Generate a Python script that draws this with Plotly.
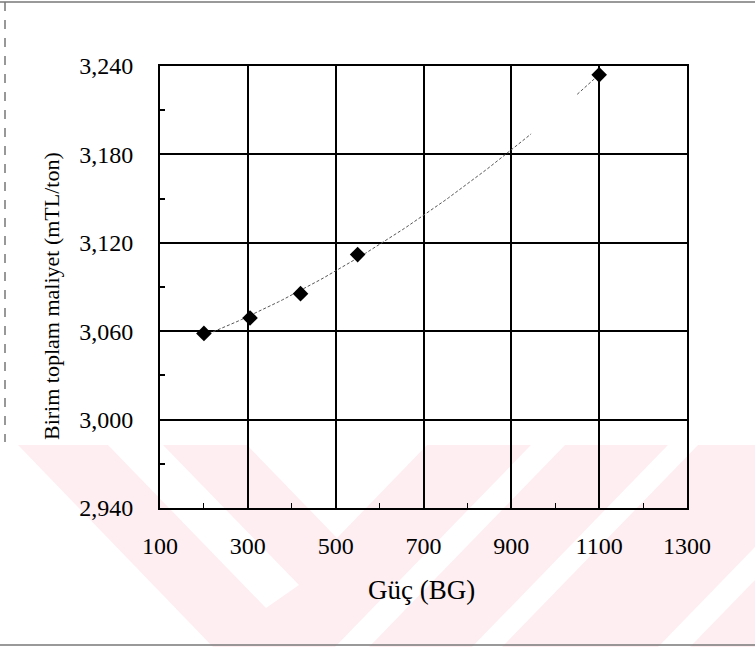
import numpy as np
import plotly.graph_objects as go

# Power (BG) vs unit total cost (mTL/ton)
guc_bg = [200, 305, 420, 550, 1100]
maliyet = [3058.5, 3069, 3085.5, 3112, 3234]

x_ticks = [100, 300, 500, 700, 900, 1100, 1300]
y_ticks = [2940, 3000, 3060, 3120, 3180, 3240]

# second-order trend fitted to the points
coef = np.polyfit(guc_bg, maliyet, 2)
trend_a = np.linspace(200, 945, 80)
trend_b = np.linspace(1050, 1100, 12)
trend_x = list(trend_a) + [None] + list(trend_b)
trend_y = list(np.polyval(coef, trend_a)) + [None] + list(np.polyval(coef, trend_b))

FONT = "Liberation Serif"
W, H = 755, 647
L, R, T, B = 160, 687, 66, 508


def to_paper(xp, yp):
    return (xp - L) / (R - L), (B - yp) / (B - T)


def path(points):
    pts = [to_paper(a, b) for a, b in points]
    return "M " + " L ".join(f"{a:.5f},{b:.5f}" for a, b in pts) + " Z"


PINK = "#feeef1"
WHITE = "#ffffff"
mark_shapes = [
    (PINK, [(18, 445), (755, 445), (755, 647), (213, 647)]),
    (WHITE, [(108, 445), (163, 445), (299, 585), (266, 608)]),
    (WHITE, [(247, 445), (427, 445), (337, 538)]),
    (WHITE, [(531, 445), (565, 445), (369, 647), (335, 647)]),
    (WHITE, [(668, 445), (698, 445), (502, 647), (472, 647)]),
    (WHITE, [(658, 647), (755, 547), (755, 580), (690, 647)]),
]

shapes = []
for color, pts in mark_shapes:
    shapes.append(dict(type="path", xref="paper", yref="paper", path=path(pts),
                       fillcolor=color, line=dict(width=0), layer="below"))

# page border lines
for (x0, y0, x1, y1, dash) in [(0, 2, 755, 2, "solid"), (0, 645, 755, 645, "solid"),
                               (5, 2, 5, 442, "dash")]:
    a0, b0 = to_paper(x0, y0)
    a1, b1 = to_paper(x1, y1)
    shapes.append(dict(type="line", xref="paper", yref="paper", x0=a0, y0=b0, x1=a1, y1=b1,
                       line=dict(color="#777777", width=1.5, dash=dash), layer="below"))

fig = go.Figure()
fig.add_trace(go.Scatter(x=trend_x, y=trend_y, mode="lines",
                         line=dict(color="#555555", width=1, dash="3px,2px"),
                         hoverinfo="skip", showlegend=False))
fig.add_trace(go.Scatter(x=guc_bg, y=maliyet, mode="markers",
                         marker=dict(symbol="diamond", size=12, color="black"),
                         showlegend=False))

xt_a, xt_b = to_paper(421, 590)
yt_a, yt_b = to_paper(51, 296)

fig.update_layout(
    width=W, height=H,
    margin=dict(l=L, r=W - R, t=T, b=H - B),
    paper_bgcolor="white",
    plot_bgcolor="rgba(0,0,0,0)",
    font=dict(family=FONT, color="black"),
    shapes=shapes,
    xaxis=dict(range=[100, 1300], tickvals=x_ticks, tickformat="d",
               showgrid=True, gridcolor="black", gridwidth=2,
               showline=True, linecolor="black", linewidth=2, mirror=True,
               ticks="", ticklabelstandoff=15, tickfont=dict(size=24, family=FONT),
               zeroline=False,
               minor=dict(dtick=200, tick0=200, ticks="inside", ticklen=5,
                          tickwidth=1, tickcolor="black", showgrid=False)),
    yaxis=dict(range=[2940, 3240], tickvals=y_ticks, tickformat=",d",
               showgrid=True, gridcolor="black", gridwidth=2,
               showline=True, linecolor="black", linewidth=2, mirror=True,
               ticks="", ticklabelstandoff=20, tickfont=dict(size=24, family=FONT),
               zeroline=False,
               minor=dict(dtick=60, tick0=2970, ticks="inside", ticklen=5,
                          tickwidth=1.5, tickcolor="black", showgrid=False)),
    annotations=[
        dict(text="Güç (BG)", xref="paper", yref="paper", x=xt_a, y=xt_b,
             showarrow=False, font=dict(size=27, family=FONT), xanchor="center", yanchor="middle"),
        dict(text="Birim toplam maliyet (mTL/ton)", xref="paper", yref="paper", x=yt_a, y=yt_b,
             showarrow=False, textangle=-90, font=dict(size=22, family=FONT),
             xanchor="center", yanchor="middle"),
    ],
)

fig.write_html("out.html")
